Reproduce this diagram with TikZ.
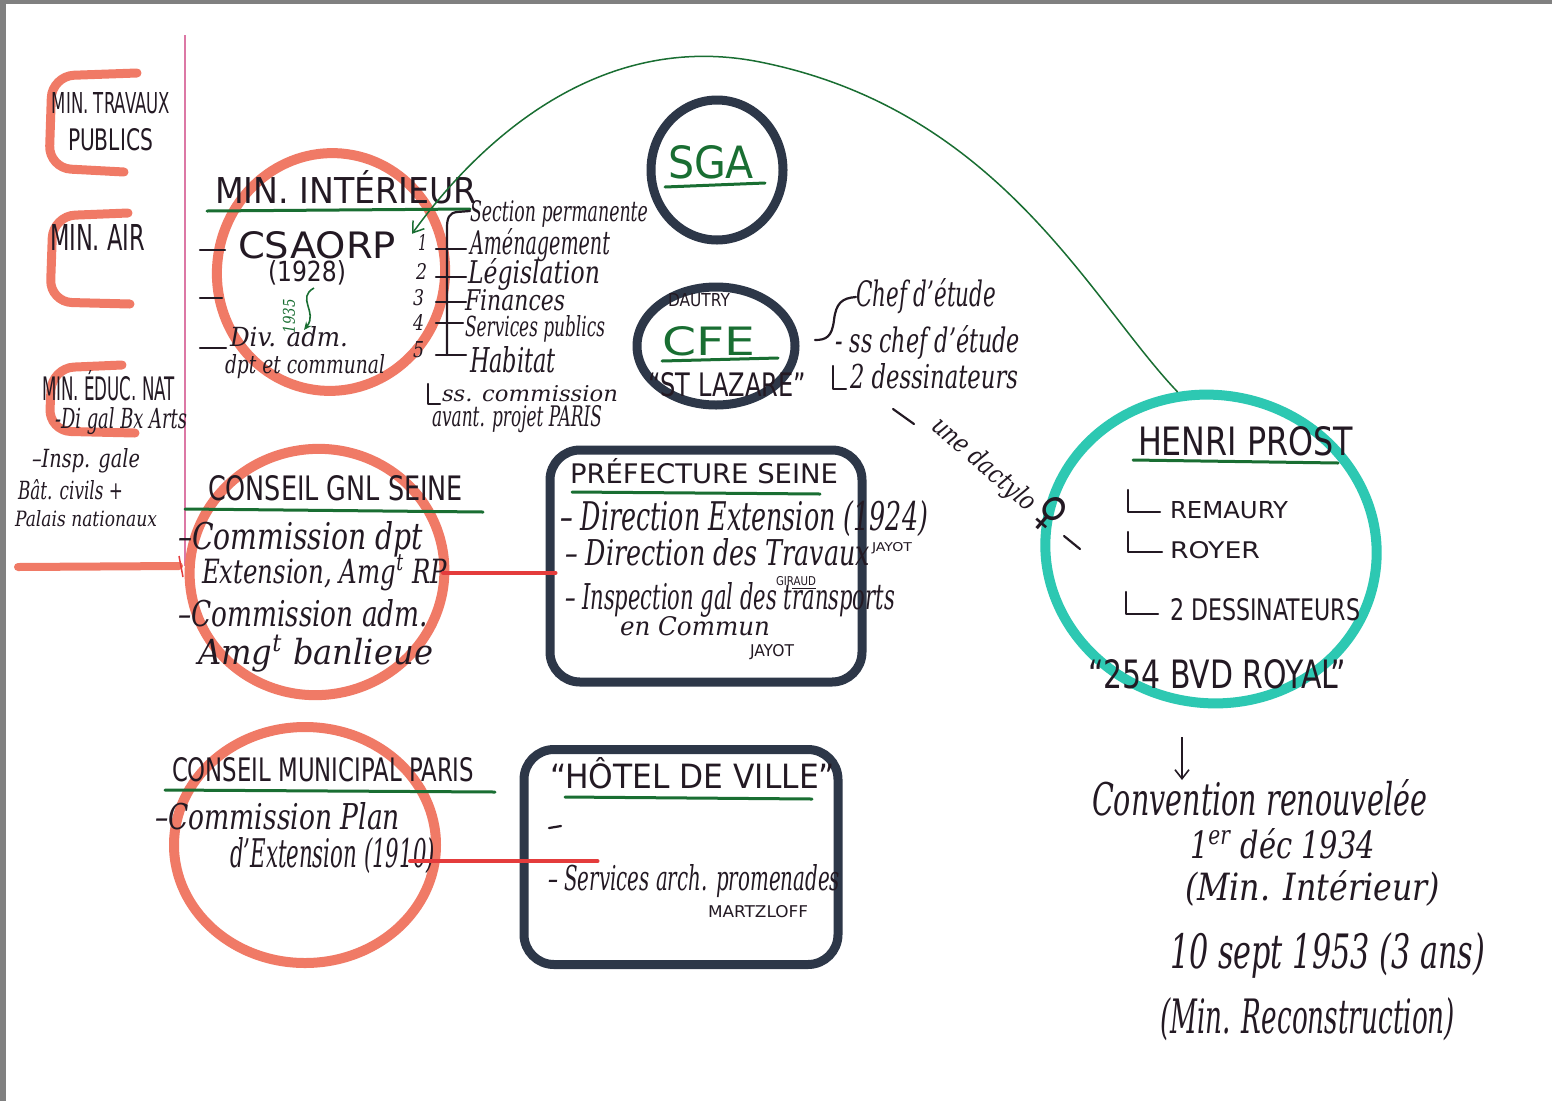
\documentclass[tikz,border=0pt]{standalone}
\usepackage{fontspec}
\setmainfont{DejaVu Serif}
\newfontfamily\capsf{DejaVu Sans}
\newfontfamily\symf{DejaVu Sans}
\usetikzlibrary{arrows.meta,shapes.geometric}
\definecolor{ink}{RGB}{35,25,35}
\definecolor{grn}{RGB}{25,110,50}
\definecolor{salmon}{RGB}{240,122,102}
\definecolor{navy}{RGB}{45,55,72}
\definecolor{teal}{RGB}{45,200,178}
\definecolor{pinkl}{RGB}{220,120,165}
\definecolor{redl}{RGB}{228,60,60}
\definecolor{gframe}{RGB}{128,128,128}
\newcommand\hw[3]{\resizebox{#1pt}{#2pt}{#3}}
\tikzset{
  txt/.style={anchor=base west, inner sep=0pt, outer sep=0pt, text=ink, font=\itshape},
  capt/.style={txt, font=\capsf},
  uline/.style={draw=grn, line width=3pt, line cap=round},
  inkline/.style={draw=ink, line width=2.2pt, line cap=round, line join=round},
  salmring/.style={ellipse, draw=salmon, line width=10pt, inner sep=0pt},
  navyring/.style={ellipse, draw=navy, line width=9pt, inner sep=0pt},
  tealring/.style={ellipse, draw=teal, line width=10pt, inner sep=0pt},
  navybox/.style={rectangle, draw=navy, line width=9pt, rounded corners=30pt, inner sep=0pt},
  salmstroke/.style={draw=salmon, line width=9pt, line cap=round, rounded corners=22pt},
  redlink/.style={draw=redl, line width=4pt, line cap=round},
  grncurve/.style={draw=grn, line width=1.5pt},
}
\begin{document}
\begin{tikzpicture}[x=1pt,y=-1pt]
\useasboundingbox (0,0) rectangle (1552,1101);
\fill[white] (0,0) rectangle (1552,1101);
\fill[gframe] (0,0) rectangle (1552,4);
\fill[gframe] (0,0) rectangle (6,1101);

% pink vertical line
\coordinate (ptop) at (185,35);
\coordinate (pbot) at (185,566);
\draw[draw=pinkl, line width=2pt] (ptop) -- (pbot);

% left column brackets
\draw[salmstroke] (137,73) -- (52,76) -- (49,168) -- (124,172);
\draw[salmstroke] (128,213) -- (53,216) -- (50,302) -- (130,304);
\draw[salmstroke] (122,365) -- (52,368) -- (49,431) -- (135,433);
\coordinate (rl) at (18,567);
\draw[draw=salmon, line width=8pt, line cap=round] (rl) -- ([xshift=-6pt]pbot);
\draw[draw=redl, line width=1.5pt] (179,556) -- (183,577);

% rings
\node[salmring, minimum width=228pt, minimum height=238pt, rotate=-8] (minintc) at (331,272) {};
\node[navyring, minimum width=132pt, minimum height=140pt] (sgac) at (717,170) {};
\node[navyring, minimum width=158pt, minimum height=118pt] (cfec) at (716,346) {};
\node[navybox, minimum width=312pt, minimum height=232pt] (prefb) at (706,566) {};
\node[salmring, minimum width=255pt, minimum height=246pt, rotate=10] (gnlc) at (317,572) {};
\node[salmring, minimum width=262pt, minimum height=236pt] (muncc) at (305,845) {};
\node[navybox, minimum width=314pt, minimum height=215pt] (hdvb) at (681,857) {};
\node[tealring, minimum width=332pt, minimum height=308pt, rotate=-10] (prostc) at (1211,549) {};

% ---- texts: left column
\node[capt] (mtp1) at (52,113) {\hw{118}{21}{MIN. TRAVAUX}};
\node[capt] (mtp2) at (68,150) {\hw{85}{22}{PUBLICS}};
\node[capt] (mair) at (50,250) {\hw{95}{26}{MIN. AIR}};
\node[capt] (medu) at (42,400) {\hw{133}{30}{MIN. ÉDUC. NAT}};
\node[txt] (dgba) at (55,428) {\hw{132}{21}{-Di gal Bx Arts}};
\node[txt] (insp) at (32,467) {\hw{108}{19}{–Insp. gale}};
\node[txt] (batc) at (18,499) {\hw{105}{20}{Bât. civils +}};
\node[txt] (paln) at (15,526) {\hw{142}{16}{Palais nationaux}};

% ---- MIN. INTERIEUR
\node[capt] (minint) at (215,203) {\hw{262}{33}{MIN. INTÉRIEUR}};
\draw[uline] (207,211) -- (470,209);
\node[capt] (csa) at (238,258) {\hw{158}{27}{CSAORP}};
\node[capt] (y1928) at (268,281) {\hw{78}{21}{(1928)}};
\node[txt, text=grn, rotate=90, anchor=center] (y1935) at (289,316) {\hw{34}{12}{1935}};
\node[txt] (divadm) at (230,346) {\hw{118}{20}{Div. adm.}};
\node[txt] (dptc) at (225,373) {\hw{160}{19}{dpt et communal}};
\draw[inkline] (200,250) -- (225,250);
\draw[inkline] (200,298) -- (222,298);
\draw[inkline] (200,348) -- (226,348);
\draw[draw=grn, line width=1.6pt, -{Stealth[length=8pt,width=7pt]}] (314,288) .. controls (296,298) and (318,312) .. (304,330);

% section list
\node[txt] (secp) at (470,221) {\hw{178}{21}{Section permanente}};
\node[txt] (amen) at (470,254) {\hw{140}{26}{Aménagement}};
\node[txt] (legi) at (468,283) {\hw{132}{25}{Législation}};
\node[txt] (fina) at (465,310) {\hw{100}{21}{Finances}};
\node[txt] (serv) at (465,336) {\hw{140}{21}{Services publics}};
\node[txt] (habi) at (470,372) {\hw{86}{26}{Habitat}};
\node[txt] (sscom) at (442,401) {\hw{176}{16}{ss. commission}};
\node[txt] (avpr) at (432,426) {\hw{170}{21}{avant. projet PARIS}};
\node[txt] (n1) at (418,250) {\hw{9}{16}{1}};
\node[txt] (n2) at (416,279) {\hw{11}{16}{2}};
\node[txt] (n3) at (413,305) {\hw{11}{16}{3}};
\node[txt] (n4) at (413,330) {\hw{11}{16}{4}};
\node[txt] (n5) at (413,357) {\hw{11}{16}{5}};
\draw[inkline] (secp.base west) ++(0,-10) -- (457,212) .. controls (449,213) and (447,218) .. (447,228) -- (447,355);
\draw[inkline] (436,249) -- (466,249);
\draw[inkline] (436,277) -- (466,277);
\draw[inkline] (436,302) -- (466,302);
\draw[inkline] (436,323) -- (463,323);
\draw[inkline] (436,355) -- (466,355);
\draw[inkline] (428,384) -- (428,404) -- (440,404);

% SGA
\node[capt, text=grn] (sgat) at (668,178) {\hw{86}{33}{SGA}};
\draw[uline] (665,187) -- (765,183);
% CFE
\node[capt] (dautry) at (668,306) {\hw{62}{13}{DAUTRY}};
\node[capt, text=grn] (cfet) at (662,355) {\hw{93}{29}{CFE}};
\draw[uline] (662,361) -- (778,358);
\node[capt] (stlaz) at (648,396) {\hw{158}{24}{“ST LAZARE”}};
\draw[inkline] (815,340) .. controls (826,340) and (832,337) .. (834,320) .. controls (836,303) and (842,298) .. (856,297);
\node[txt] (chef) at (856,306) {\hw{140}{28}{Chef d'étude}};
\node[txt] (sschef) at (835,352) {\hw{185}{27}{- ss chef d'étude}};
\draw[inkline] (833,366) -- (833,389) -- (846,389);
\node[txt] (dess2) at (850,388) {\hw{168}{25}{2 dessinateurs}};
% dactylo
\draw[inkline] (893,409) -- (914,424);
\node[txt, rotate=-41] (dact) at (930,428) {\hw{160}{20}{une dactylo\,\smash{\scalebox{1.7}{\symf\upshape ♀}}}};
\draw[inkline] (1064,536) -- (1080,549);

% PREFECTURE
\node[capt] (preft) at (570,483) {\hw{268}{25}{PRÉFECTURE SEINE}};
\draw[uline] (572,492) -- (820,494);
\node[txt] (dirext) at (560,530) {\hw{368}{30}{– Direction Extension (1924)}};
\node[capt] (jay1) at (872,551) {\hw{40}{9}{JAYOT}};
\node[txt] (dirtr) at (565,565) {\hw{305}{27}{– Direction des Travaux}};
\node[capt] (gir) at (776,585) {\hw{40}{9}{GIRAUD}};
\draw[draw=ink, line width=1pt] (792,588) -- (816,588);
\node[txt] (insg) at (565,609) {\hw{330}{27}{– Inspection gal des transports}};
\node[txt] (encom) at (620,635) {\hw{150}{19}{en Commun}};
\node[capt] (jay2) at (750,656) {\hw{44}{12}{JAYOT}};

% CONSEIL GNL SEINE
\node[capt] (gnlt) at (208,500) {\hw{255}{25}{CONSEIL GNL SEINE}};
\draw[uline] (185,509) -- (483,512);
\node[txt] (cdpt) at (178,549) {\hw{245}{28}{–Commission dpt}};
\node[txt] (extrp) at (202,583) {\hw{245}{28}{Extension, Amg\textsuperscript{t} RP}};
\node[txt] (cadm) at (178,626) {\hw{250}{27}{–Commission adm.}};
\node[txt] (banl) at (198,664) {\hw{235}{29}{Amg\textsuperscript{t} banlieue}};
\path (extrp.east -| prefb.west) coordinate (pl);
\draw[redlink] ([xshift=-4pt]extrp.east) -- ([xshift=10pt]pl);

% CONSEIL MUNICIPAL
\node[capt] (cmpt) at (172,781) {\hw{302}{24}{CONSEIL MUNICIPAL PARIS}};
\draw[uline] (165,790) -- (495,792);
\node[txt] (cplan) at (155,829) {\hw{245}{27}{–Commission Plan}};
\node[txt] (dext) at (230,867) {\hw{205}{30}{d'Extension (1910)}};
\coordinate (hl1) at ([shift={(-25,6)}]dext.east);
\path (hl1 -| hdvb.west) coordinate (hl2);
\draw[redlink] (hl1) -- ([xshift=78pt]hl2);

% HOTEL DE VILLE
\node[capt] (hdvt) at (550,788) {\hw{285}{31}{“HÔTEL DE VILLE”}};
\draw[uline] (565,797) -- (812,799);
\draw[inkline] (549,828) -- (561,826);
\node[txt] (servarch) at (548,890) {\hw{292}{26}{– Services arch. promenades}};
\node[capt] (martz) at (708,917) {\hw{100}{12}{MARTZLOFF}};

% HENRI PROST
\node[capt] (prostt) at (1138,455) {\hw{215}{29}{HENRI PROST}};
\draw[uline] (1133,460) -- (1338,463);
\draw[inkline] (1128,490) -- (1128,512) -- (1160,512);
\node[capt] (remau) at (1170,518) {\hw{118}{17}{REMAURY}};
\draw[inkline] (1128,532) -- (1128,552) -- (1162,552);
\node[capt] (royer) at (1170,558) {\hw{90}{17}{ROYER}};
\draw[inkline] (1126,592) -- (1126,614) -- (1158,614);
\node[capt] (dessp) at (1170,620) {\hw{190}{22}{2 DESSINATEURS}};
\node[capt] (bud) at (1088,688) {\hw{258}{29}{“254 BVD ROYAL”}};

% green curve Prost -> CSAORP
\draw[grncurve, -{Straight Barb[length=10pt,width=14pt]}] (prostc.112) .. controls (1090,300) and (1000,110) .. (760,62) .. controls (600,30) and (480,140) .. ([shift={(16,-11)}]csa.east);

% convention
\coordinate (arrtop) at (1182,737);
\coordinate (arrbot) at (1182,780);
\draw[draw=ink, line width=1.6pt, -{Straight Barb[length=9pt,width=14pt]}] (arrtop) -- (arrbot);
\node[txt] (conv) at (1092,815) {\hw{335}{36}{Convention renouvelée}};
\node[txt] (d1934) at (1190,858) {\hw{185}{30}{1\textsuperscript{er} déc 1934}};
\node[txt] (minint2) at (1185,900) {\hw{255}{30}{(Min. Intérieur)}};
\node[txt] (d1953) at (1170,968) {\hw{315}{36}{10 sept 1953 (3 ans)}};
\node[txt] (minrec) at (1160,1033) {\hw{295}{36}{(Min. Reconstruction)}};
\end{tikzpicture}
\end{document}
